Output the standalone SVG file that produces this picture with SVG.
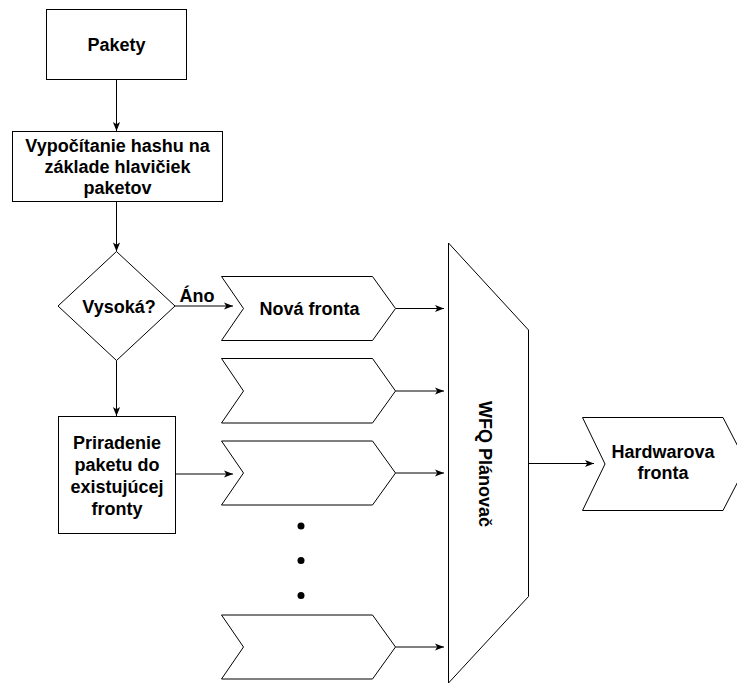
<svg xmlns="http://www.w3.org/2000/svg" width="737" height="684" viewBox="0 0 737 684">
<defs>
<style>
.shape{fill:#ffffff;stroke:#000000;stroke-width:1}
.lbl{font-family:"Liberation Sans",Arial,Helvetica,sans-serif;font-weight:bold;font-size:18px;fill:#000000;text-anchor:middle}
.edge{fill:none;stroke:#000000;stroke-width:1;marker-end:url(#arr)}
.dot{fill:#000000}
</style>
<marker id="arr" viewBox="0 0 10 10" markerWidth="10" markerHeight="9" refX="10" refY="5" orient="auto" markerUnits="userSpaceOnUse">
<path d="M0,1 L10,5 L0,9 L2.5,5 z" fill="#000000"/>
</marker>
</defs>
<rect width="737" height="684" fill="#ffffff"/>

<g id="connectors">
<line class="edge" x1="116.5" y1="79.5" x2="116.5" y2="131"/>
<line class="edge" x1="116.5" y1="201.5" x2="116.5" y2="251.5"/>
<line class="edge" x1="175" y1="306" x2="233" y2="306"/>
<line class="edge" x1="116.5" y1="360.5" x2="116.5" y2="416"/>
<line class="edge" x1="175.5" y1="474" x2="233" y2="474"/>
<line class="edge" x1="395.5" y1="308.5" x2="444" y2="308.5"/>
<line class="edge" x1="395.5" y1="391" x2="444" y2="391"/>
<line class="edge" x1="395.5" y1="473" x2="444" y2="473"/>
<line class="edge" x1="395.5" y1="647" x2="444" y2="647"/>
<line class="edge" x1="524" y1="463.5" x2="594" y2="463.5"/>
</g>

<g id="pakety">
<rect class="shape" x="46.5" y="9.5" width="140" height="70"/>
<text class="lbl" x="116.5" y="50.5">Pakety</text>
</g>

<g id="hash">
<rect class="shape" x="12.5" y="131.5" width="210" height="70"/>
<text class="lbl" x="117.5" y="151.5">Vypočítanie hashu na</text>
<text class="lbl" x="117.5" y="172.5">základe hlavičiek</text>
<text class="lbl" x="117.5" y="193.5">paketov</text>
</g>

<g id="vysoka">
<polygon class="shape" points="116.5,251.5 175,306 116.5,360.5 58,306"/>
<text class="lbl" x="119" y="313">Vysoká?</text>
</g>

<g id="ano-label">
<text class="lbl" x="197" y="302">Áno</text>
</g>

<g id="priradenie">
<rect class="shape" x="58.5" y="416.5" width="117" height="117"/>
<text class="lbl" x="117" y="449">Priradenie</text>
<text class="lbl" x="117" y="471">paketu do</text>
<text class="lbl" x="117" y="493">existujúcej</text>
<text class="lbl" x="117" y="515">fronty</text>
</g>

<g id="nova-fronta">
<polygon class="shape" points="221.5,276.5 372.5,276.5 395.5,308.5 372.5,340.5 221.5,340.5 243.5,308.5"/>
<text class="lbl" x="309.5" y="315">Nová fronta</text>
</g>

<g id="fronta2">
<polygon class="shape" points="221.5,358.5 372.5,358.5 395.5,391 372.5,423 221.5,423 243.5,391"/>
</g>

<g id="fronta3">
<polygon class="shape" points="221.5,441 372.5,441 395.5,473 372.5,505 221.5,505 243.5,473"/>
</g>

<g id="dots">
<circle class="dot" cx="301" cy="526" r="3.5"/>
<circle class="dot" cx="301" cy="560.5" r="3.5"/>
<circle class="dot" cx="301" cy="595.5" r="3.5"/>
</g>

<g id="fronta4">
<polygon class="shape" points="221.5,615 372.5,615 395.5,647 372.5,679 221.5,679 243.5,647"/>
</g>

<g id="wfq">
<polygon class="shape" points="448.5,243 528.5,330 528.5,596.5 448.5,683"/>
<text class="lbl" transform="translate(478.5,464) rotate(90)" x="0" y="0">WFQ Plánovač</text>
</g>

<g id="hardwarova">
<polygon class="shape" points="582.5,417.5 723,417.5 747,464 723,510.5 582.5,510.5 605,464"/>
<text class="lbl" x="663" y="458">Hardwarova</text>
<text class="lbl" x="663" y="479">fronta</text>
</g>
</svg>
